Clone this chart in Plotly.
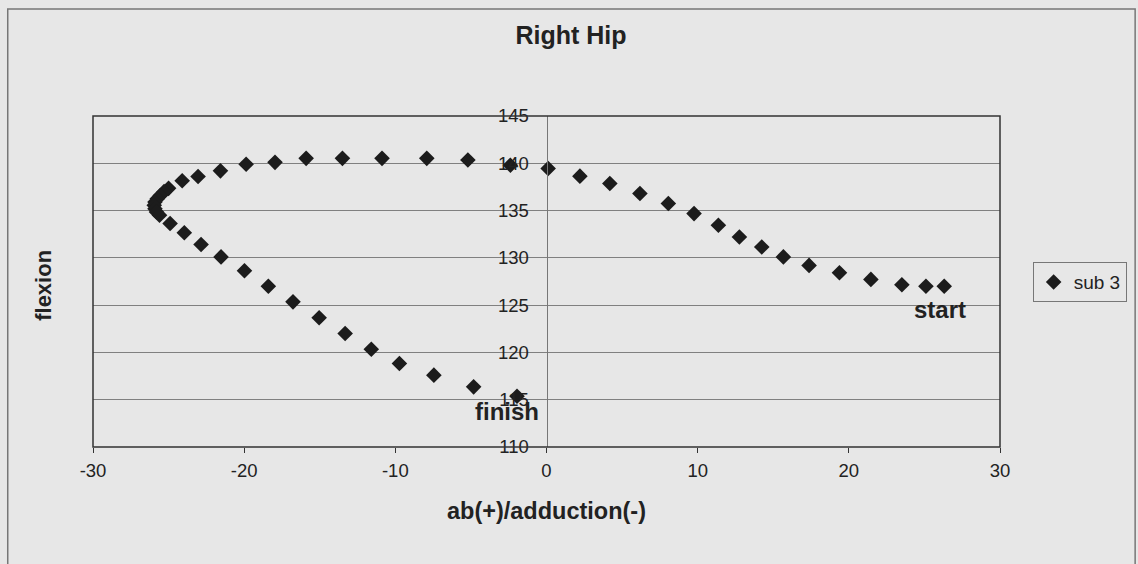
import plotly.graph_objects as go

# data: start -> finish
abduction = [26.31, 25.1, 23.51, 21.46, 19.38, 17.37, 15.67, 14.24, 12.76, 11.37, 9.76, 8.06,
             6.18, 4.19, 2.21, 0.11,
             -2.39, -5.2, -7.92, -10.88, -13.5, -15.9, -17.96, -19.87, -21.57, -23.05, -24.1, -25.0,
             -25.3, -25.55, -25.75, -25.9, -25.95, -25.9, -25.8, -25.6,
             -24.9, -23.96, -22.85, -21.53, -19.98, -18.4, -16.77, -15.04, -13.32, -11.59, -9.73,
             -7.45, -4.82, -1.95]
flexion = [127.0, 127.0, 127.16, 127.72, 128.43, 129.2, 130.1, 131.15, 132.2, 133.45, 134.68, 135.74,
           136.8, 137.86, 138.64, 139.45,
           139.8, 140.34, 140.52, 140.52, 140.52, 140.52, 140.1, 139.9, 139.2, 138.6, 138.15, 137.35,
           137.0, 136.6, 136.25, 135.9, 135.55, 135.2, 134.85, 134.5,
           133.64, 132.65, 131.42, 130.1, 128.63, 127.0, 125.35, 123.66, 122.0, 120.34, 118.83,
           117.6, 116.36, 115.37]
series_name = "sub 3"
x_ticks = [-30, -20, -10, 0, 10, 20, 30]
x_ticktext = ["-30", "-20", "-10", "0", "10", "20", "30"]
y_ticks = [110, 115, 120, 125, 130, 135, 140, 145]
labels_text = ["start", "finish"]
labels_x = [26.0, -2.6]
labels_y = [124.5, 113.8]

BG = "#e7e7e7"
FONT = "Liberation Sans, Arial, sans-serif"

fig = go.Figure()
fig.add_trace(go.Scatter(
    x=abduction, y=flexion, mode="markers", name=series_name,
    marker=dict(symbol="diamond", size=12, color="#1c1c1c"),
))

fig.update_layout(
    width=1138, height=564,
    margin=dict(l=93, r=138, t=116, b=117, autoexpand=False),
    paper_bgcolor=BG, plot_bgcolor=BG,
    font=dict(family=FONT, color="#222", size=18.5),
    title=dict(text="<b>Right Hip</b>", x=0.527, xref="paper", xanchor="center",
               y=0.937, yanchor="middle", font=dict(size=25, color="#222")),
    showlegend=True,
    legend=dict(x=1.036, xanchor="left", y=0.498, yanchor="middle",
                bgcolor=BG, bordercolor="#777", borderwidth=1, itemwidth=30,
                font=dict(size=19), itemsizing="constant"),
    xaxis=dict(range=[-30, 30], tickvals=x_ticks, ticktext=x_ticktext, showgrid=False,
               zeroline=False, showline=False, ticks="outside", ticklen=5, tickcolor="#333",
               ticklabelstandoff=2,
               title=dict(text="<b>ab(+)/adduction(-)</b>", font=dict(size=23.5), standoff=22)),
    yaxis=dict(range=[110, 145], tickvals=y_ticks, showgrid=True, gridcolor="#808080",
               gridwidth=1, zeroline=False, anchor="free", position=0.5,
               showline=True, linecolor="#777", linewidth=1, ticks="",
               ticklabelstandoff=14),
)

# plot area frame
fig.add_shape(type="rect", xref="x domain", yref="y domain", x0=0, x1=1, y0=0, y1=1,
              line=dict(color="#333", width=1.5))
# chart area frame
fig.add_shape(type="rect", xref="paper", yref="paper", x0=-0.094, x1=1.149, y0=-0.4, y1=1.323,
              line=dict(color="#777", width=1.5), layer="below")

fig.add_annotation(text="<b>flexion</b>", xref="paper", yref="paper", x=-0.0555, y=0.489,
                   xanchor="center", yanchor="middle",
                   textangle=-90, showarrow=False, font=dict(size=22, color="#222"))
for t, lx, ly in zip(labels_text, labels_x, labels_y):
    fig.add_annotation(text="<b>%s</b>" % t, x=lx, y=ly, xref="x", yref="y",
                       showarrow=False, font=dict(size=24, color="#222"))

fig.write_html("out.html", config={"displayModeBar": False},
               post_script="document.body.style.margin='0';")
